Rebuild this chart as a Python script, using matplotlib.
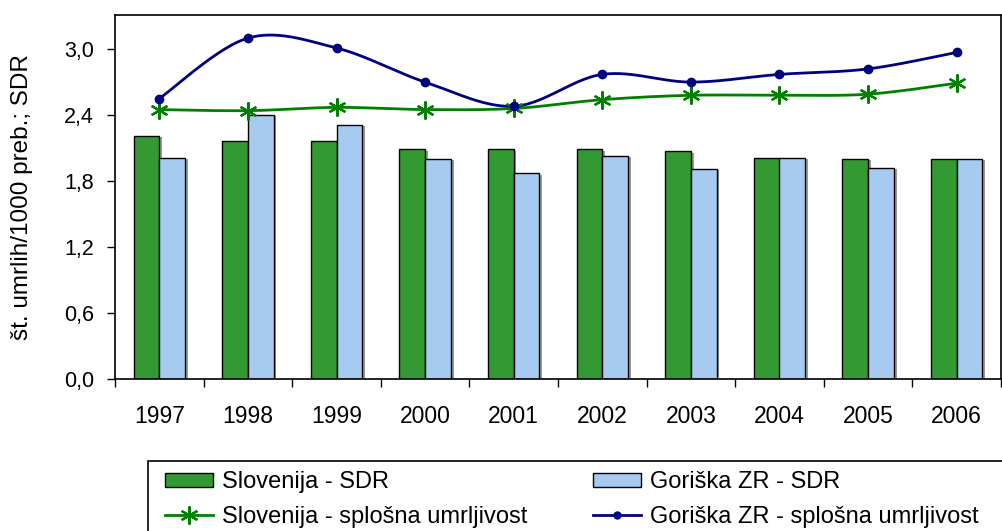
import numpy as np
import matplotlib.pyplot as plt
from matplotlib.lines import Line2D
from matplotlib.patches import Patch, Rectangle
import matplotlib.patheffects as pe

plt.rcParams['font.family'] = ['Liberation Sans', 'DejaVu Sans']

years = ['1997', '1998', '1999', '2000', '2001', '2002', '2003', '2004', '2005', '2006']
slo_sdr = [2.21, 2.16, 2.16, 2.09, 2.09, 2.09, 2.07, 2.01, 2.00, 2.00]
gor_sdr = [2.01, 2.40, 2.31, 2.00, 1.87, 2.03, 1.91, 2.01, 1.92, 2.00]
slo_spl = [2.45, 2.44, 2.47, 2.45, 2.46, 2.54, 2.58, 2.58, 2.59, 2.69]
gor_spl = [2.55, 3.10, 3.01, 2.70, 2.48, 2.77, 2.70, 2.77, 2.82, 2.97]


def smooth(x, y, n=30):
    # Excel-like smoothed line (Catmull-Rom bezier)
    x = np.asarray(x, float)
    y = np.asarray(y, float)
    xs, ys = [], []
    for i in range(len(x) - 1):
        p0 = np.array([x[max(i - 1, 0)], y[max(i - 1, 0)]])
        p1 = np.array([x[i], y[i]])
        p2 = np.array([x[i + 1], y[i + 1]])
        p3 = np.array([x[min(i + 2, len(x) - 1)], y[min(i + 2, len(x) - 1)]])
        c1 = p1 + (p2 - p0) / 6
        c2 = p2 - (p3 - p1) / 6
        t = np.linspace(0, 1, n)[:, None]
        pts = ((1 - t) ** 3 * p1 + 3 * (1 - t) ** 2 * t * c1
               + 3 * (1 - t) * t ** 2 * c2 + t ** 3 * p2)
        xs.extend(pts[:, 0])
        ys.extend(pts[:, 1])
    return np.array(xs), np.array(ys)


green_bar = '#339933'
blue_bar = '#A6CAF0'
green_line = '#008000'
navy = '#000080'

fig = plt.figure(figsize=(10.03, 5.31), dpi=100)
ax = fig.add_axes([115 / 1003, 1 - 379 / 531, 886 / 1003, 364 / 531])

x = np.arange(len(years))
w = 0.29
shadow = [pe.SimplePatchShadow(offset=(2, -1), shadow_rgbFace='#555555', alpha=0.6), pe.Normal()]
b1 = ax.bar(x - w / 2, slo_sdr, w, color=green_bar, edgecolor='black', linewidth=1, zorder=2)
b2 = ax.bar(x + w / 2, gor_sdr, w, color=blue_bar, edgecolor='black', linewidth=1, zorder=2)
for r in list(b1) + list(b2):
    r.set_path_effects(shadow)

sx, sy = smooth(x, slo_spl)
ax.plot(sx, sy, color=green_line, lw=2, zorder=3)
ax.plot(x, slo_spl, ls='none', marker=(6, 2, 0), ms=13, mew=1.6, color=green_line, zorder=4)
gx, gy = smooth(x, gor_spl)
ax.plot(gx, gy, color=navy, lw=2, zorder=3)
ax.plot(x, gor_spl, ls='none', marker='o', ms=6, color=navy, zorder=4)

ax.set_xlim(-0.5, 9.4)
ax.set_ylim(0, 3.31)
yt = np.arange(0, 3.01, 0.6)
ax.set_yticks(yt)
ax.set_yticklabels([f'{v:.1f}'.replace('.', ',') for v in yt], fontsize=15.5)
ax.set_xticks(np.arange(-0.5, 9.6, 1))
ax.set_xticklabels([])
ax.set_xticks(x, minor=True)
ax.set_xticklabels(years, minor=True, fontsize=16.5)
ax.tick_params(axis='x', which='major', length=6, direction='out', width=1)
ax.tick_params(axis='x', which='minor', length=0, pad=19)
ax.tick_params(axis='y', length=6, width=1, pad=9)
for s in ax.spines.values():
    s.set_linewidth(1.2)
ax.set_ylabel('št. umrlih/1000 preb.; SDR', fontsize=17.5, labelpad=22)

# legend frame (runs off the right and bottom edge)
fig.patches.append(Rectangle((148 / 1003, -0.05), 0.9, 1 - 461 / 531 + 0.05,
                             transform=fig.transFigure, facecolor='white',
                             edgecolor='black', linewidth=1.2))

handles = [
    Patch(facecolor=green_bar, edgecolor='black'),
    Line2D([], [], color=green_line, lw=2, marker=(6, 2, 0), ms=13, mew=1.6),
    Patch(facecolor=blue_bar, edgecolor='black'),
    Line2D([], [], color=navy, lw=2, marker='o', ms=5),
]
labels = ['Slovenija - SDR', 'Slovenija - splošna umrljivost',
          'Goriška ZR - SDR', 'Goriška ZR - splošna umrljivost']
leg = fig.legend(handles, labels, ncol=2, loc='upper left',
                 bbox_to_anchor=(165 / 1003, 1 - 471 / 531), fontsize=17,
                 frameon=False, handlelength=2.05, handleheight=0.55,
                 handletextpad=0.38, columnspacing=2.76,
                 labelspacing=0.55, borderpad=0, borderaxespad=0)

fig.savefig('out.png', dpi=100)
